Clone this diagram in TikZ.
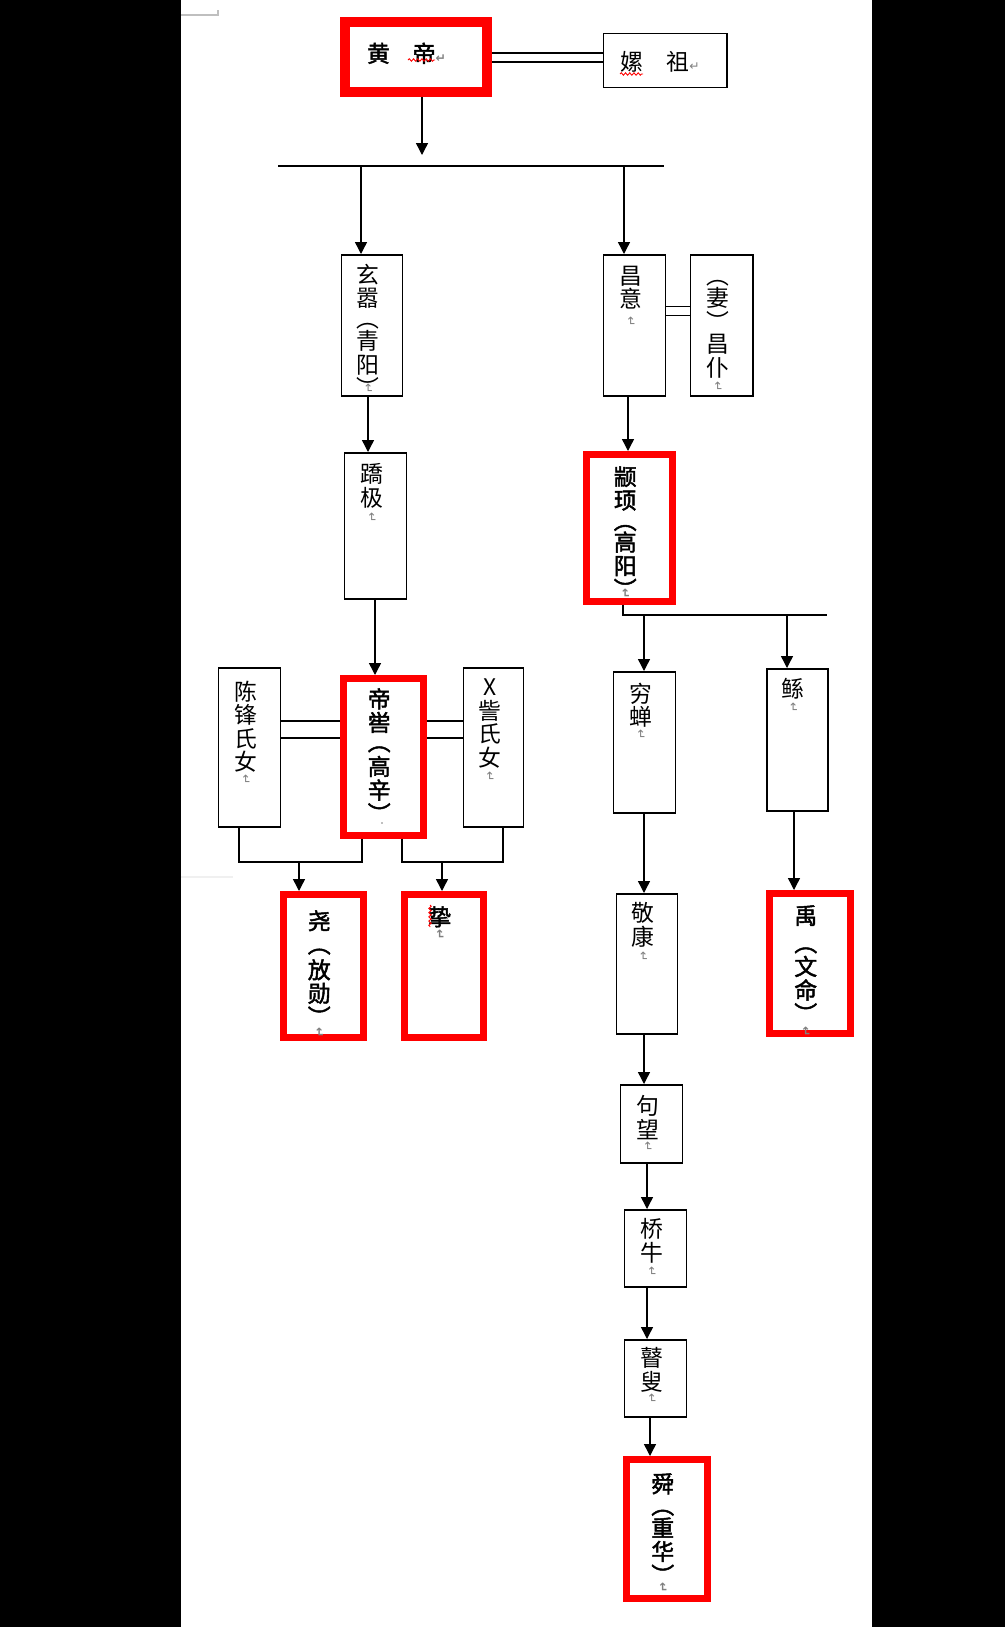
\documentclass[tikz,border=0pt]{standalone}
\usepackage{fontspec}
\usepackage{graphicx}
\usetikzlibrary{arrows.meta,calc,decorations.pathmorphing}
\setmainfont{Noto Sans CJK SC}[BoldFont={Noto Sans CJK SC},BoldFeatures={FakeBold=2}]
\newfontfamily\symfont{DejaVu Sans}
\definecolor{BoxClr}{rgb}{1,0,0}
\definecolor{MarkClr}{rgb}{0.5,0.5,0.5}
\definecolor{PageClr}{rgb}{0,0,0}
\newlength\px
\setlength\px{0.02cm}
\newcommand\retmark{{\color{MarkClr}\symfont\fontsize{7pt}{7pt}\selectfont\raisebox{\depth}{\rotatebox{-90}{↵}}}}
\newcommand\hretmark{{\color{MarkClr}\symfont\fontsize{7pt}{7pt}\selectfont ↵}}
\newcommand\colbox[4]{\parbox[t][#2\px][t]{#1\px}{\centering\rightskip=8\px plus 1fil\fontsize{13pt}{13.4pt}\selectfont\vspace*{#3\px}#4\par}}
\newcommand\rowbox[3]{\parbox[c][#2\px][c]{#1\px}{\noindent\fontsize{13pt}{13.4pt}\selectfont#3}}

\begin{document}
\begin{tikzpicture}[x=0.02cm,y=-0.02cm]
\tikzset{bbox/.style={draw=black,line width=0.85pt,fill=white,inner sep=0pt,anchor=north west},
  rbox/.style={draw=BoxClr,line width=3.7pt,fill=white,inner sep=0pt,anchor=north west,font=\bfseries},
  ln/.style={line width=0.8pt},
  arr/.style={ln,-{Triangle[length=6.8pt,width=6.8pt]}},
  dbl/.style={double,double distance=4.4pt,line width=0.75pt},
  dblw/.style={double,double distance=8.9pt,line width=0.75pt},
  squig/.style={BoxClr,line width=0.5pt,decorate,decoration={snake,amplitude=0.7pt,segment length=2.4pt}}}

% Page.
\useasboundingbox (0,0) rectangle (1005,1627);
\fill[PageClr] (0,0) rectangle (1005,1627);
\fill[white] (181,0) rectangle (872,1627);
\draw[gray!50,line width=0.6pt] (181,15) -- (218,15) -- (218,10);
\draw[gray!12,line width=0.6pt] (181,877) -- (233,877);

% Boxes.
\node[rbox,line width=5.7pt] (huangdi) at (340,17) {\rowbox{142}{70}{\hspace*{22\px}\raisebox{-5\px}[0pt][0pt]{黄　帝\hretmark}}};
\node[bbox] (leizu) at (603,33) {\rowbox{123}{54}{\hspace*{17\px}\raisebox{-10\px}[0pt][0pt]{嫘　祖\hretmark}}};

\node[bbox] (xuanxiao) at (341,254) {\colbox{61}{141}{9}{玄\\嚣\\[-3\px]︵\\[-1\px]青\\阳\\︶\\[-26\px]\retmark}};
\node[bbox] (changyi) at (603,254) {\colbox{62}{141}{11}{昌\\意\\[-4\px]\retmark}};
\node[bbox] (qi) at (690,254) {\colbox{62}{141}{26}{︵\\[-2\px]妻\\︶\\[-1\px]昌\\仆\\[-8\px]\retmark}};
\node[bbox] (jiaoji) at (344,452) {\colbox{62}{146}{11}{蹻\\极\\[-7\px]\retmark}};
\node[rbox] (zhuanxu) at (583,451) {\colbox{86}{147}{12}{颛\\顼\\[-3\px]︵\\[-2\px]高\\阳\\︶\\[-23\px]\retmark}};

\node[bbox] (chenfeng) at (218,667) {\colbox{62}{159}{13}{陈\\锋\\氏\\女\\[-9\px]\retmark}};
\node[rbox] (diku) at (340,675) {\colbox{80}{157}{10}{帝\\喾\\[-4\px]︵\\[1\px]高\\辛\\︶}};
\node[bbox] (zizi) at (463,667) {\colbox{60}{159}{11}{X\\訾\\氏\\女\\[-8\px]\retmark}};
\node[rbox] (yao) at (280,891) {\colbox{80}{143}{16}{尧\\︵\\[2\px]放\\勋\\︶\\[-11\px]\retmark}};
\node[rbox] (zhi) at (401,891) {\colbox{79}{143}{12}{挚\\[-9\px]\retmark}};

\node[bbox] (qiongchan) at (613,671) {\colbox{62}{141}{11}{穷\\蝉\\[-9\px]\retmark}};
\node[bbox] (gun) at (766,668) {\colbox{61}{142}{10}{鲧\\[-9\px]\retmark}};
\node[bbox] (jingkang) at (616,893) {\colbox{61}{140}{9}{敬\\康\\[-7\px]\retmark}};
\node[rbox] (yu) at (766,890) {\colbox{81}{140}{12}{禹\\[4\px]︵\\文\\命\\︶\\[-9\px]\retmark}};
\node[bbox] (juwang) at (620,1084) {\colbox{62}{78}{11}{句\\望\\[-10\px]\retmark}};
\node[bbox] (qiaoniu) at (624,1209) {\colbox{62}{77}{9}{桥\\牛\\[-8\px]\retmark}};
\node[bbox] (gusou) at (624,1339) {\colbox{62}{77}{8}{瞽\\叟\\[-10\px]\retmark}};
\node[rbox] (shun) at (623,1456) {\colbox{81}{139}{14}{舜\\[-2\px]︵\\[-1\px]重\\华\\︶\\[-14\px]\retmark}};

% Marriages.
\coordinate (hdl) at (0,57.5);
\coordinate (cyl) at (0,311);
\coordinate (dkl) at (0,729.5);
\draw[dbl] (huangdi.east |- hdl) -- (leizu.west |- hdl);
\draw[dbl] (changyi.east |- cyl) -- (qi.west |- cyl);
\draw[dblw] (chenfeng.east |- dkl) -- (diku.west |- dkl);
\draw[dblw] (diku.east |- dkl) -- (zizi.west |- dkl);

% Children of Huangdi.
\coordinate (hdtip) at (422,155);
\coordinate (barL) at (278,166);
\coordinate (barR) at (664,166);
\coordinate (dropA) at (361,166);
\coordinate (dropB) at (624,166);
\draw[arr] (hdtip |- huangdi.south) -- (hdtip);
\draw[ln] (barL) -- (barR);
\draw[arr] (dropA) -- (dropA |- xuanxiao.north);
\draw[arr] (dropB) -- (dropB |- changyi.north);

% Left line.
\coordinate (xa) at (368,0);
\coordinate (xb) at (375,0);
\coordinate (xc) at (628,0);
\draw[arr] (xa |- xuanxiao.south) -- (xa |- jiaoji.north);
\draw[arr] (xb |- jiaoji.south) -- (xb |- diku.north);
\draw[arr] (xc |- changyi.south) -- (xc |- zhuanxu.north);

% Sons of Diku.
\coordinate (kbar) at (0,862);
\coordinate (ka) at (239,0);
\coordinate (kb) at (362,0);
\coordinate (kc) at (299,0);
\coordinate (kd) at (402,0);
\coordinate (ke) at (503,0);
\coordinate (kf) at (442,0);
\draw[ln] (ka |- chenfeng.south) -- (ka |- kbar) -- (kb |- kbar) -- (kb |- diku.south);
\draw[arr] (kc |- kbar) -- (kc |- yao.north);
\draw[ln] (kd |- diku.south) -- (kd |- kbar) -- (ke |- kbar) -- (ke |- zizi.south);
\draw[arr] (kf |- kbar) -- (kf |- zhi.north);

% Sons of Zhuanxu.
\coordinate (zbar) at (0,615);
\coordinate (za) at (623,0);
\coordinate (zb) at (827,0);
\coordinate (zc) at (644,0);
\coordinate (zd) at (787,0);
\draw[ln] (za |- zhuanxu.south) -- (za |- zbar) -- (zb |- zbar);
\draw[arr] (zc |- zbar) -- (zc |- qiongchan.north);
\draw[arr] (zd |- zbar) -- (zd |- gun.north);

% Down to Shun.
\coordinate (sa) at (644,0);
\coordinate (sb) at (647,0);
\coordinate (sc) at (650,0);
\coordinate (ya) at (794,0);
\draw[arr] (sa |- qiongchan.south) -- (sa |- jingkang.north);
\draw[arr] (sa |- jingkang.south) -- (sa |- juwang.north);
\draw[arr] (sb |- juwang.south) -- (sb |- qiaoniu.north);
\draw[arr] (sb |- qiaoniu.south) -- (sb |- gusou.north);
\draw[arr] (sc |- gusou.south) -- (sc |- shun.north);
\draw[arr] (ya |- gun.south) -- (ya |- yu.north);

% Spelling marks.
\draw[squig] (408,60) -- (435,60);
\draw[squig] (620,74) -- (643,74);
\draw[squig] (430,905) -- (430,927);
\fill[MarkClr] (382,823) circle (0.9);

\end{tikzpicture}
\end{document}
